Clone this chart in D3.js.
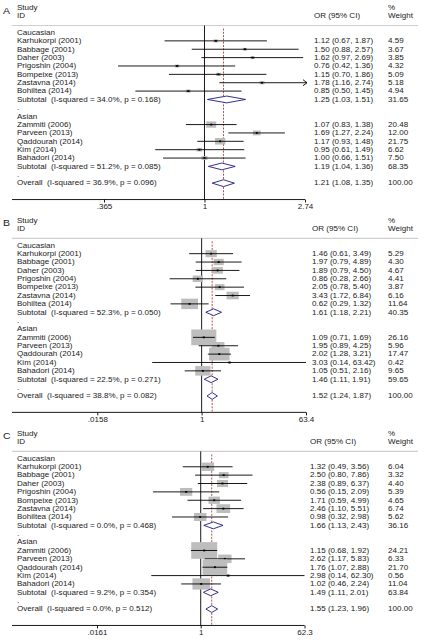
<!DOCTYPE html>
<html>
<head>
<meta charset="utf-8">
<script src="https://cdn.jsdelivr.net/npm/d3@7"></script>
<style>
  html, body { margin: 0; padding: 0; background: #fff; }
  svg { display: block; font-family: "Liberation Sans", Arial, sans-serif; }
</style>
</head>
<body>
<div id="chart"></div>
<script>
// study labels, same order in every panel
const caucasian = ["Karhukorpi (2001)", "Babbage (2001)", "Daher (2003)", "Prigoshin (2004)",
  "Bompeixe (2013)", "Zastavna (2014)", "Bohiltea (2014)"];
const asian = ["Zammiti (2006)", "Parveen (2013)", "Qaddourah (2014)", "Kim (2014)", "Bahadori (2014)"];

// Panel A
const orA = [1.12, 1.50, 1.62, 0.76, 1.15, 1.78, 0.85, 1.07, 1.69, 1.17, 0.95, 1.00];
const loA = [0.67, 0.88, 0.97, 0.42, 0.70, 1.16, 0.50, 0.83, 1.27, 0.93, 0.61, 0.66];
const hiA = [1.87, 2.57, 2.69, 1.36, 1.86, 2.74, 1.45, 1.38, 2.24, 1.48, 1.49, 1.51];
const wtA = [4.59, 3.67, 3.85, 4.32, 5.09, 5.18, 4.94, 20.48, 12.00, 21.75, 6.62, 7.50];
const subA = [[1.25, 1.03, 1.51, 31.65], [1.19, 1.04, 1.36, 68.35], [1.21, 1.08, 1.35, 100.00]];
const hetA = ["34.0%, p = 0.168", "51.2%, p = 0.085", "36.9%, p = 0.096"];
const ticksA = [0.365, 1, 2.74];
const clippedA = ["Zastavna (2014)"];

// Panel B
const orB = [1.46, 1.97, 1.89, 0.86, 2.05, 3.43, 0.62, 1.09, 1.95, 2.02, 3.03, 1.05];
const loB = [0.61, 0.79, 0.79, 0.28, 0.78, 1.72, 0.29, 0.71, 0.89, 1.28, 0.14, 0.51];
const hiB = [3.49, 4.89, 4.50, 2.66, 5.40, 6.84, 1.32, 1.69, 4.25, 3.21, 63.42, 2.16];
const wtB = [5.29, 4.30, 4.67, 4.41, 3.87, 6.16, 11.64, 26.16, 5.96, 17.47, 0.42, 9.65];
const subB = [[1.61, 1.18, 2.21, 40.35], [1.46, 1.11, 1.91, 59.65], [1.52, 1.24, 1.87, 100.00]];
const hetB = ["52.3%, p = 0.050", "22.5%, p = 0.271", "38.8%, p = 0.082"];
const ticksB = [0.0158, 1, 63.4];

// Panel C
const orC = [1.32, 2.50, 2.38, 0.56, 1.71, 2.46, 0.98, 1.15, 2.62, 1.76, 2.98, 1.02];
const loC = [0.49, 0.80, 0.89, 0.15, 0.59, 1.10, 0.32, 0.68, 1.17, 1.07, 0.14, 0.46];
const hiC = [3.56, 7.86, 6.37, 2.09, 4.99, 5.51, 2.98, 1.92, 5.83, 2.88, 62.30, 2.24];
const wtC = [6.04, 3.32, 4.40, 5.39, 4.65, 6.74, 5.62, 24.21, 6.33, 21.70, 0.56, 11.04];
const subC = [[1.66, 1.13, 2.43, 36.16], [1.49, 1.11, 2.01, 63.84], [1.55, 1.23, 1.96, 100.00]];
const hetC = ["0.0%, p = 0.468", "9.2%, p = 0.354", "0.0%, p = 0.512"];
const ticksC = [0.0161, 1, 62.3];

const W = 429, H = 642;
const FS = 6.6, SX = 1.22, STEP = 8.37;
const ink = "#1a1a1a", navy = "#1c1c7c", boxFill = "#bdbdbd";

const svg = d3.select("#chart").append("svg").attr("width", W).attr("height", H);

function txt(g, x, y, s, size = FS) {
  return g.append("text")
    .attr("transform", `translate(${x},${y}) scale(${SX},1)`)
    .attr("dy", "0.35em")
    .attr("font-size", size)
    .attr("fill", ink)
    .text(s);
}

const fmt = v => v.toFixed(2);
const ciText = (o, l, h) => `${fmt(o)} (${fmt(l)}, ${fmt(h)})`;

const panels = [
  { letter: "A", or: orA, lo: loA, hi: hiA, wt: wtA, sub: subA, het: hetA, ticks: ticksA, clipped: clippedA,
    top: 32.5, range: [104, 305], valX: 314, bw: 2.2, bh: 1.4 },
  { letter: "B", or: orB, lo: loB, hi: hiB, wt: wtB, sub: subB, het: hetB, ticks: ticksB, clipped: [],
    top: 245.3, range: [97.3, 306], valX: 312, bw: 4.9, bh: 3.07 },
  { letter: "C", or: orC, lo: loC, hi: hiC, wt: wtC, sub: subC, het: hetC, ticks: ticksC, clipped: [],
    top: 458.4, range: [97, 304.5], valX: 310, bw: 5.28, bh: 3.39 }
];

panels.forEach(p => {
  const g = svg.append("g");
  const rowY = i => p.top + i * STEP;
  const x = d3.scaleLog().domain([p.ticks[0], p.ticks[2]]).range(p.range);
  const headY = p.top - 7;
  const axisY = rowY(18) + 16.4;
  const names = caucasian.concat(asian);

  // headers
  txt(g, 3, p.top - 22, p.letter, 8.6);
  txt(g, 17, p.top - 25, "Study");
  txt(g, 17, p.top - 16.6, "ID");
  txt(g, p.valX, p.top - 16.6, "OR (95% CI)");
  txt(g, 388, p.top - 25, "%");
  txt(g, 388, p.top - 16.6, "Weight");

  g.append("line")
    .attr("x1", 12).attr("x2", 418).attr("y1", headY).attr("y2", headY)
    .attr("stroke", "#cfcfcf").attr("stroke-width", 1.2);

  // no-effect line and overall estimate line
  g.append("line")
    .attr("x1", x(1)).attr("x2", x(1)).attr("y1", headY).attr("y2", axisY)
    .attr("stroke", "#000").attr("stroke-width", 0.9);
  g.append("line")
    .attr("x1", x(p.sub[2][0])).attr("x2", x(p.sub[2][0]))
    .attr("y1", headY + 3).attr("y2", axisY)
    .attr("stroke", "#a8262a").attr("stroke-width", 0.8).attr("stroke-dasharray", "2,1.3");

  // group labels and spacer dots
  txt(g, 17, rowY(0), "Caucasian");
  txt(g, 17, rowY(9), ".");
  txt(g, 17, rowY(10), "Asian");
  txt(g, 17, rowY(17), ".");

  // studies
  names.forEach((name, i) => {
    const y = rowY(i < 7 ? i + 1 : i + 4);
    const o = p.or[i], l = p.lo[i], h = p.hi[i], w = p.wt[i];
    const bw = p.bw * Math.sqrt(w), bh = p.bh * Math.sqrt(w);
    const clipped = p.clipped.includes(name);

    g.append("rect")
      .attr("x", x(o) - bw / 2).attr("y", y - bh / 2)
      .attr("width", bw).attr("height", bh)
      .attr("fill", boxFill);

    const xEnd = clipped ? p.range[1] + 2 : x(h);
    g.append("line")
      .attr("x1", x(l)).attr("x2", xEnd).attr("y1", y).attr("y2", y)
      .attr("stroke", "#000").attr("stroke-width", 0.9);
    if (clipped) {
      g.append("path")
        .attr("d", `M${xEnd - 4},${y - 3}L${xEnd},${y}L${xEnd - 4},${y + 3}`)
        .attr("fill", "none").attr("stroke", "#000").attr("stroke-width", 0.9);
    }

    g.append("rect")
      .attr("x", x(o) - 1).attr("y", y - 0.9)
      .attr("width", 2).attr("height", 1.8)
      .attr("fill", "#000");

    txt(g, 17, y, name);
    txt(g, p.valX, y, ciText(o, l, h));
    txt(g, 388, y, fmt(w));
  });

  // subtotals and overall
  const pooledRows = [16 - 8, 16, 18];
  const pooledLabel = ["Subtotal", "Subtotal", "Overall"];
  p.sub.forEach((s, k) => {
    const y = rowY(pooledRows[k]);
    const [o, l, h, w] = s;
    g.append("path")
      .attr("d", `M${x(l)},${y}L${x(o)},${y - 3.4}L${x(h)},${y}L${x(o)},${y + 3.4}Z`)
      .attr("fill", "#fff").attr("stroke", navy).attr("stroke-width", 0.9);
    txt(g, 17, y, `${pooledLabel[k]}  (I-squared = ${p.het[k]})`).attr("xml:space", "preserve");
    txt(g, p.valX, y, ciText(o, l, h));
    txt(g, 388, y, fmt(w));
  });

  // x axis
  g.append("line")
    .attr("x1", 12).attr("x2", p.range[1]).attr("y1", axisY).attr("y2", axisY)
    .attr("stroke", "#000").attr("stroke-width", 0.9);
  const ax = g.append("g")
    .attr("transform", `translate(0,${axisY})`)
    .call(d3.axisBottom(x).tickValues(p.ticks).tickSize(3)
      .tickFormat(d => d < 1 ? String(d).replace(/^0/, "") : String(d)));
  ax.select(".domain").remove();
  ax.selectAll(".tick line").attr("stroke", "#000").attr("stroke-width", 0.9);
  ax.selectAll(".tick text")
    .attr("y", 4.6)
    .attr("font-size", FS)
    .attr("font-family", "Liberation Sans, Arial, sans-serif")
    .attr("fill", ink)
    .attr("transform", `scale(${SX},1)`);
});
</script>
</body>
</html>
